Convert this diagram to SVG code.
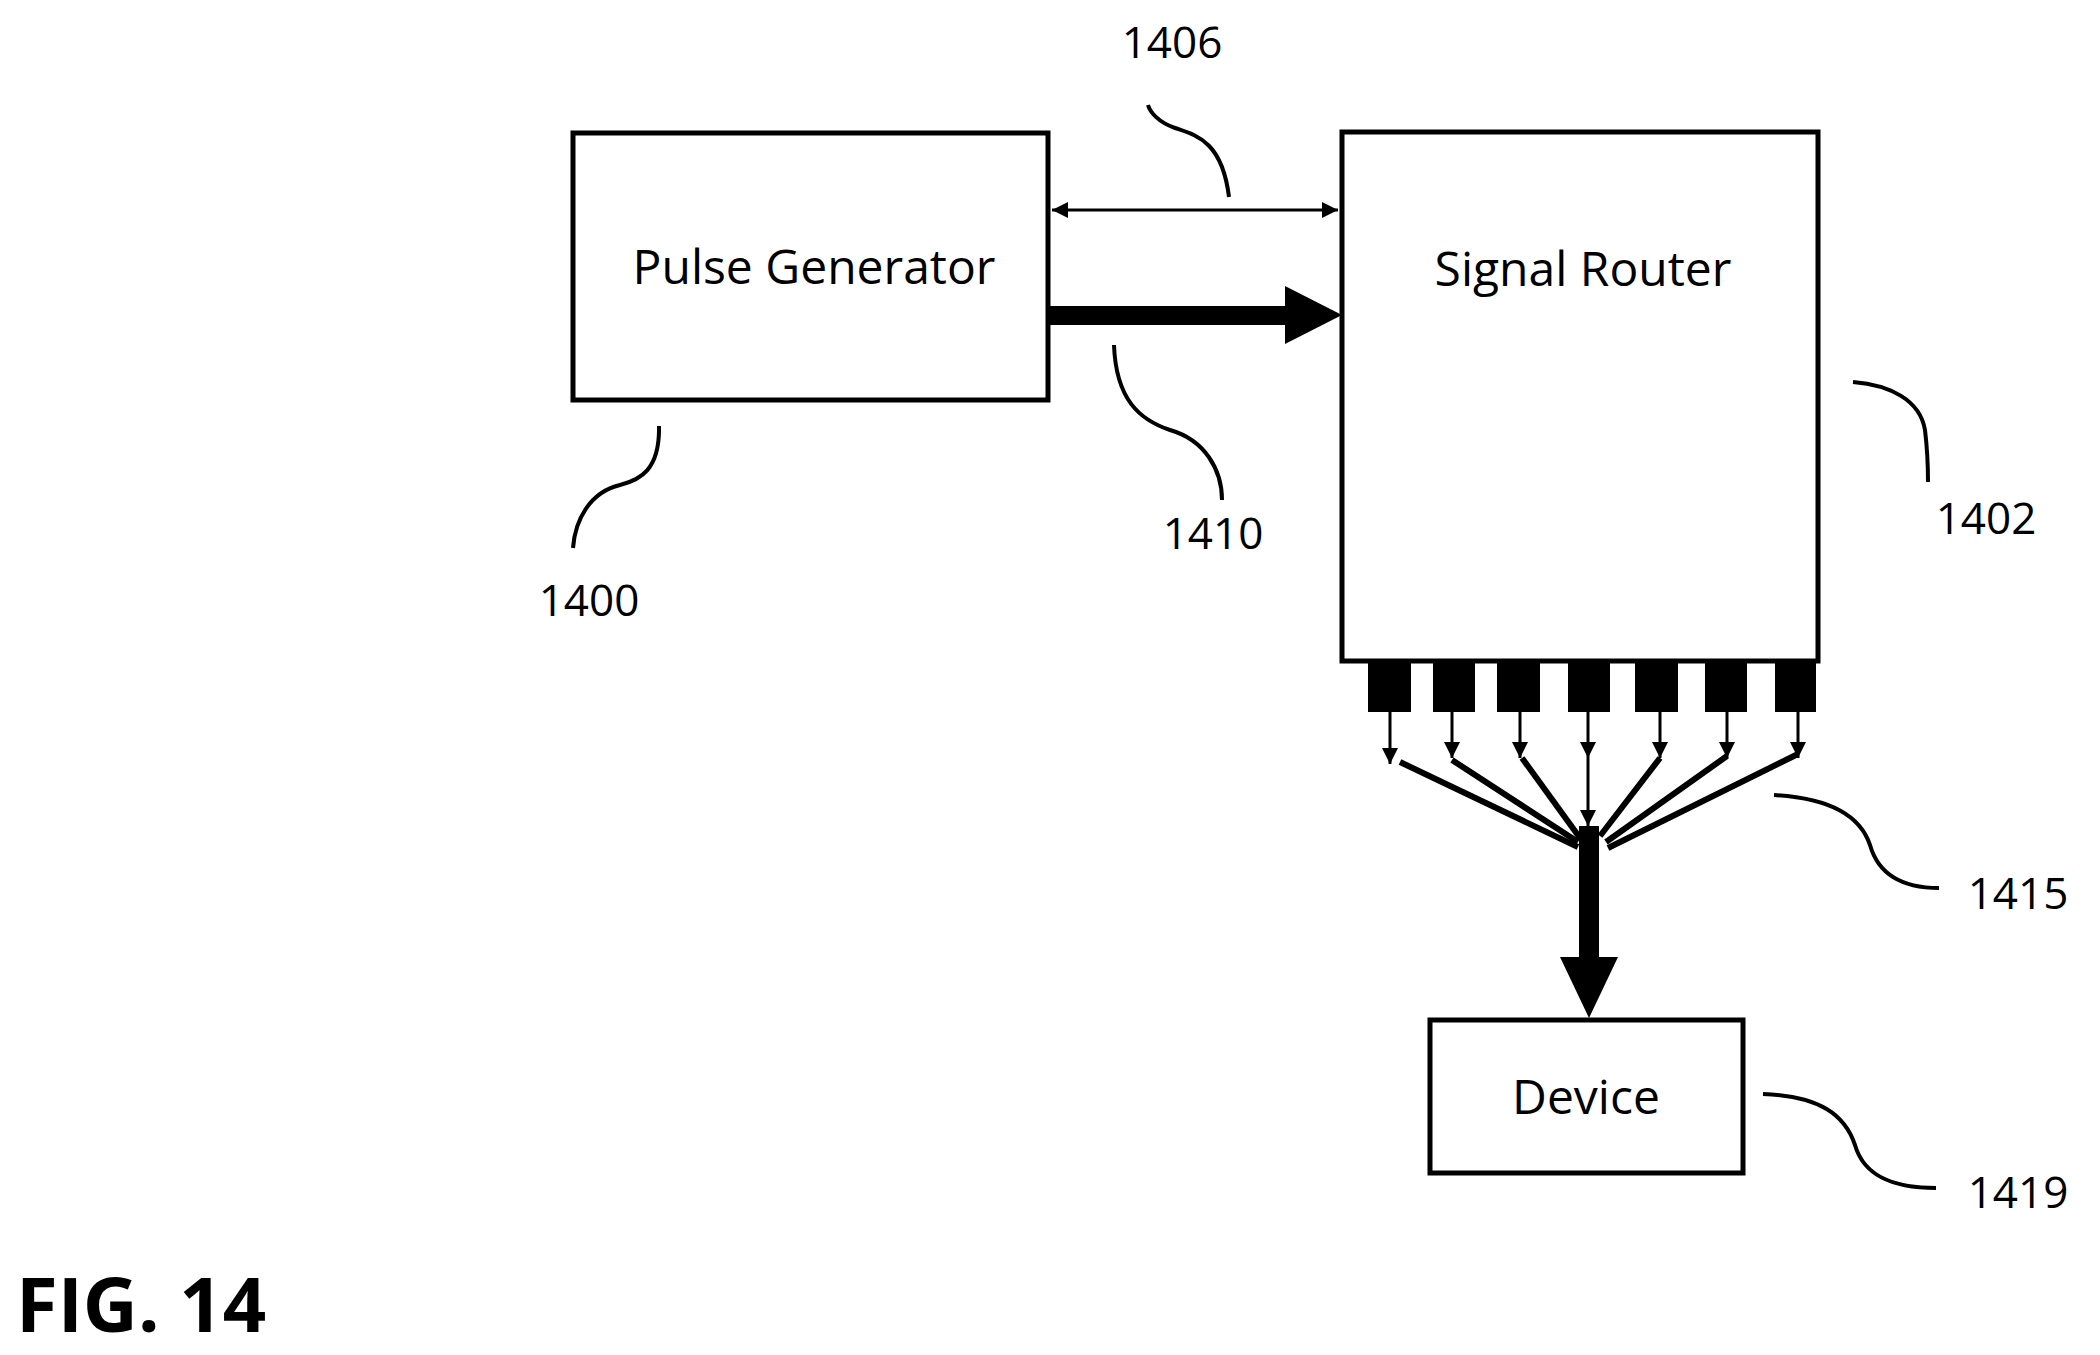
<svg xmlns="http://www.w3.org/2000/svg" width="2100" height="1355" viewBox="0 0 2100 1355">
<defs>
<style>
.box{fill:#fff;stroke:#000;stroke-width:5}
.t{font-family:"Open Sans","Liberation Sans",sans-serif;font-size:48px;text-anchor:middle}
.n{font-family:"Open Sans","Liberation Sans",sans-serif;font-size:44px;text-anchor:middle}
.lead{fill:none;stroke:#000;stroke-width:4}
.ln{stroke:#000;stroke-width:3;fill:none}
.fan{stroke:#000;stroke-width:6;fill:none}
</style>
<marker id="a" viewBox="0 0 10 10" refX="10" refY="5" markerWidth="6" markerHeight="6" markerUnits="userSpaceOnUse" orient="auto-start-reverse"><path d="M0,0L10,5L0,10z"/></marker>
<marker id="s" viewBox="0 0 10 10" refX="10" refY="5" markerWidth="16" markerHeight="16" markerUnits="userSpaceOnUse" orient="auto-start-reverse"><path d="M0,0L10,5L0,10z"/></marker>
</defs>
<g id="pulse-generator"><rect class="box" x="573" y="133" width="475" height="267"/><text class="t" x="814" y="284">Pulse Generator</text></g>
<g id="signal-router"><rect class="box" x="1342" y="132" width="476" height="529"/><text class="t" x="1583" y="286">Signal Router</text>
<g fill="#000"><rect x="1368" y="663" width="43" height="49"/><rect x="1433" y="663" width="42" height="49"/><rect x="1497" y="663" width="43" height="49"/><rect x="1568" y="663" width="42" height="49"/><rect x="1635" y="663" width="43" height="49"/><rect x="1705" y="663" width="42" height="49"/><rect x="1775" y="663" width="41" height="49"/></g></g>
<g id="device"><rect class="box" x="1430" y="1020" width="313" height="153"/><text class="t" x="1586" y="1114">Device</text></g>
<g id="connectors">
<line class="ln" x1="1052" y1="210" x2="1338" y2="210" marker-start="url(#s)" marker-end="url(#s)"/>
<rect x="1050" y="306" width="240" height="19"/><path d="M1285,286L1342,315L1285,344z"/>
<g class="ln" marker-end="url(#s)">
<line x1="1390" y1="712" x2="1390" y2="764"/><line x1="1452" y1="712" x2="1452" y2="758"/><line x1="1520" y1="712" x2="1520" y2="758"/><line x1="1588" y1="712" x2="1588" y2="758"/><line x1="1660" y1="712" x2="1660" y2="758"/><line x1="1727" y1="712" x2="1727" y2="758"/><line x1="1798" y1="712" x2="1798" y2="758"/><line x1="1588" y1="758" x2="1588" y2="826"/>
</g>
<g class="fan">
<line x1="1400" y1="762" x2="1578" y2="847"/><line x1="1452" y1="760" x2="1578" y2="842"/><line x1="1522" y1="758" x2="1580" y2="838"/><line x1="1660" y1="758" x2="1600" y2="836"/><line x1="1727" y1="756" x2="1606" y2="842"/><line x1="1798" y1="754" x2="1608" y2="848"/>
</g>
<rect x="1579" y="826" width="20" height="135"/><path d="M1560,957L1618,957L1589,1018z"/>
</g>
<g id="labels">
<path class="lead" d="M1229,197C1222,140 1195,135 1175,128C1158,122 1150,112 1148,105"/>
<path class="lead" d="M1114,345C1116,400 1140,420 1170,430C1205,440 1222,470 1222,500"/>
<path class="lead" d="M659,426C660,470 640,480 620,485C590,492 575,520 573,548"/>
<path class="lead" d="M1853,382C1890,385 1920,400 1925,430C1928,455 1928,470 1928,482"/>
<path class="lead" d="M1774,795C1830,798 1860,815 1870,845C1880,880 1910,888 1939,888"/>
<path class="lead" d="M1763,1094C1820,1096 1845,1115 1855,1145C1865,1180 1900,1188 1936,1188"/>
<text class="n" x="1172" y="58">1406</text>
<text class="n" x="1213" y="549">1410</text>
<text class="n" x="589" y="616">1400</text>
<text class="n" x="1986" y="534">1402</text>
<text class="n" x="2018" y="909">1415</text>
<text class="n" x="2018" y="1208">1419</text>
<text x="16" y="1332" font-family="'Open Sans','Liberation Sans',sans-serif" font-weight="bold" font-size="76">FIG. 14</text>
</g>
</svg>
